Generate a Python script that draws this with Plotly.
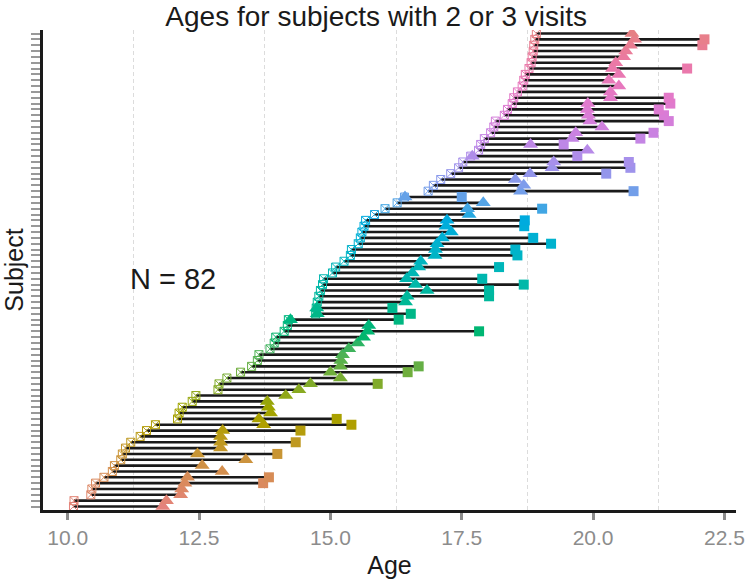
import math
import plotly.graph_objects as go

# ---- data (subjects ordered bottom -> top by first-visit age) ----
first_age = [10.11, 10.12, 10.44, 10.46, 10.53, 10.69, 10.85, 10.89, 11.01, 11.04,
             11.10, 11.20, 11.38, 11.50, 11.67, 12.09, 12.12, 12.18, 12.37, 12.44,
             12.86, 12.88, 13.03, 13.29, 13.50, 13.61, 13.64, 13.85, 13.93, 13.96,
             14.12, 14.18, 14.20, 14.72, 14.73, 14.75, 14.78, 14.81, 14.85, 14.87,
             15.04, 15.10, 15.26, 15.38, 15.40, 15.53, 15.57, 15.60, 15.64, 15.67,
             15.84, 16.04, 16.27, 16.41, 16.86, 16.96, 17.10, 17.29, 17.44, 17.52,
             17.67, 17.82, 17.86, 17.93, 18.05, 18.11, 18.14, 18.31, 18.37, 18.46,
             18.49, 18.56, 18.65, 18.68, 18.71, 18.78, 18.82, 18.84, 18.86, 18.87,
             18.89, 18.92]
second_age = [11.81, 11.88, 12.15, 12.17, 12.23, 12.28, 12.94, 12.56, 13.39, 12.47,
              12.91, 12.91, 12.91, 12.95, 13.73, 13.64, 13.86, 13.82, 13.80, 14.15,
              14.40, 14.62, 15.19, 15.00, 15.19, 15.20, 15.23, 15.35, 15.52, 15.63,
              15.71, 15.73, 14.24, 14.75, 14.74, 16.43, 16.46, 16.84, 16.62, 16.45,
              16.56, 16.68, 16.72, 16.99, 17.00, 17.03, 17.13, 17.30, 17.20, 17.22,
              17.64, 17.61, 17.91, 16.42, 18.62, 18.68, 18.52, 18.80, 19.22, 19.25,
              17.70, 19.89, 18.81, 19.60, 19.67, 20.17, 19.94, 19.91, 19.89, 19.90,
              20.33, 20.33, 20.49, 20.30, 20.49, 20.37, 20.43, 20.58, 20.62, 20.71,
              20.79, 20.74]
third_age = [None, None, None, None, 13.72, 13.83, None, None, None, 13.99,
             None, 14.34, None, 14.43, 15.40, 15.12, None, None, None, None,
             None, 15.90, None, 16.47, 16.68, None, None, None, None, None,
             17.83, None, 16.30, 16.53, 16.18, None, 18.02, 18.02, 18.68, 17.89,
             None, 18.21, None, 18.56, 18.52, 19.20, 18.86, None, 18.69, 18.70,
             None, 19.03, None, 17.50, 20.77, None, None, 20.25, 20.71, 20.68,
             19.70, None, 19.44, 20.90, 21.15, None, 21.44, 21.35, 21.25, 21.47,
             21.44, None, None, None, None, 21.79, None, None, None, 22.08,
             22.12, None]
subjects = list(range(1, len(first_age) + 1))
x_ticks = [10.0, 12.5, 15.0, 17.5, 20.0, 22.5]
x_ticklabels = ["10.0", "12.5", "15.0", "17.5", "20.0", "22.5"]
minor_breaks = [11.25, 13.75, 16.25, 18.75, 21.25]
n_label = "N = 82"


def hcl_hex(h, c=100.0, l=65.0):
    hr = math.radians(h)
    U, V = c * math.cos(hr), c * math.sin(hr)
    Xn, Yn, Zn = 95.047, 100.0, 108.883
    Y = Yn * ((l + 16) / 116) ** 3 if l > 7.999592 else Yn * l / 903.3
    den = Xn + 15 * Yn + 3 * Zn
    un, vn = 4 * Xn / den, 9 * Yn / den
    Q = U / (13 * l) + un
    R = V / (13 * l) + vn
    X = 9.0 * Y * Q / (4.0 * R)
    Z = -X / 3.0 - 5.0 * Y + 3.0 * Y / R

    def g(u):
        return 1.055 * u ** (1 / 2.4) - 0.055 if u > 0.00304 else 12.92 * u

    r = g((3.240479 * X - 1.537150 * Y - 0.498535 * Z) / Yn)
    gg = g((-0.969256 * X + 1.875992 * Y + 0.041556 * Z) / Yn)
    b = g((0.055648 * X - 0.204043 * Y + 1.057311 * Z) / Yn)
    cl = lambda v: max(0, min(255, int(round(v * 255))))
    return "#%02X%02X%02X" % (cl(r), cl(gg), cl(b))


n = len(subjects)
colors = [hcl_hex(15 + 360 * i / n, c=72) for i in range(n)]

# segments from first to last visit
seg_x, seg_y = [], []
for s, a1, a2, a3 in zip(subjects, first_age, second_age, third_age):
    last = a3 if a3 is not None else a2
    seg_x += [a1, last, None]
    seg_y += [s, s, None]

fig = go.Figure()
fig.add_trace(go.Scatter(x=seg_x, y=seg_y, mode="lines",
                         line=dict(color="#1a1a1a", width=2.6),
                         hoverinfo="skip", showlegend=False))
fig.add_trace(go.Scatter(x=first_age, y=subjects, mode="markers",
                         marker=dict(symbol="square-x-open", size=8, color=colors,
                                     line=dict(width=1, color=colors)),
                         showlegend=False))
fig.add_trace(go.Scatter(x=second_age, y=subjects, mode="markers",
                         marker=dict(symbol="triangle-up", size=13, color=colors,
                                     line=dict(width=0)),
                         showlegend=False))
t_x = [a for a in third_age if a is not None]
t_y = [s for s, a in zip(subjects, third_age) if a is not None]
t_c = [c for c, a in zip(colors, third_age) if a is not None]
fig.add_trace(go.Scatter(x=t_x, y=t_y, mode="markers",
                         marker=dict(symbol="square", size=10, color=t_c,
                                     line=dict(width=0)),
                         showlegend=False))

fig.add_annotation(x=12.0, y=40, text=n_label, showarrow=False,
                   font=dict(size=29, color="#1a1a1a", family="Liberation Sans"),
                   xanchor="center", yanchor="middle")

fig.update_layout(
    width=745, height=584,
    margin=dict(l=43, r=9, t=30, b=74, autoexpand=False),
    paper_bgcolor="white", plot_bgcolor="white",
    font=dict(family="Liberation Sans", color="#1a1a1a"),
    title=dict(text="Ages for subjects with 2 or 3 visits",
               font=dict(size=28, color="#1a1a1a"),
               x=0.505, xref="container", xanchor="center",
               y=1 - 16 / 584, yref="container", yanchor="middle"),
    xaxis=dict(range=[9.53, 22.72], tickmode="array", tickvals=x_ticks,
               ticktext=x_ticklabels, showgrid=False, zeroline=False,
               showline=True, linecolor="#1a1a1a", linewidth=2.5,
               ticks="outside", ticklen=7, tickwidth=2.5, tickcolor="#8c8c8c",
               tickfont=dict(size=21, color="#8c8c8c"), ticklabelstandoff=0,
               automargin=False,
               title=dict(text="Age", font=dict(size=25, color="#1a1a1a"), standoff=9),
               minor=dict(tickmode="array", tickvals=minor_breaks, showgrid=True,
                          gridcolor="#dcdcdc", griddash="4px,3px", gridwidth=1.2,
                          ticks="")),
    yaxis=dict(range=[0.4, 82.6], tickmode="array", tickvals=subjects,
               showticklabels=False, showgrid=False, zeroline=False,
               showline=True, linecolor="#1a1a1a", linewidth=2.5,
               ticks="outside", ticklen=9, tickwidth=2, tickcolor="#999999",
               automargin=False,
               title=dict(text="Subject", font=dict(size=25, color="#1a1a1a"), standoff=4)),
)

fig.write_html("out.html", config={"displayModeBar": False},
               post_script="document.body.style.margin='0px';document.body.style.overflow='hidden';")
